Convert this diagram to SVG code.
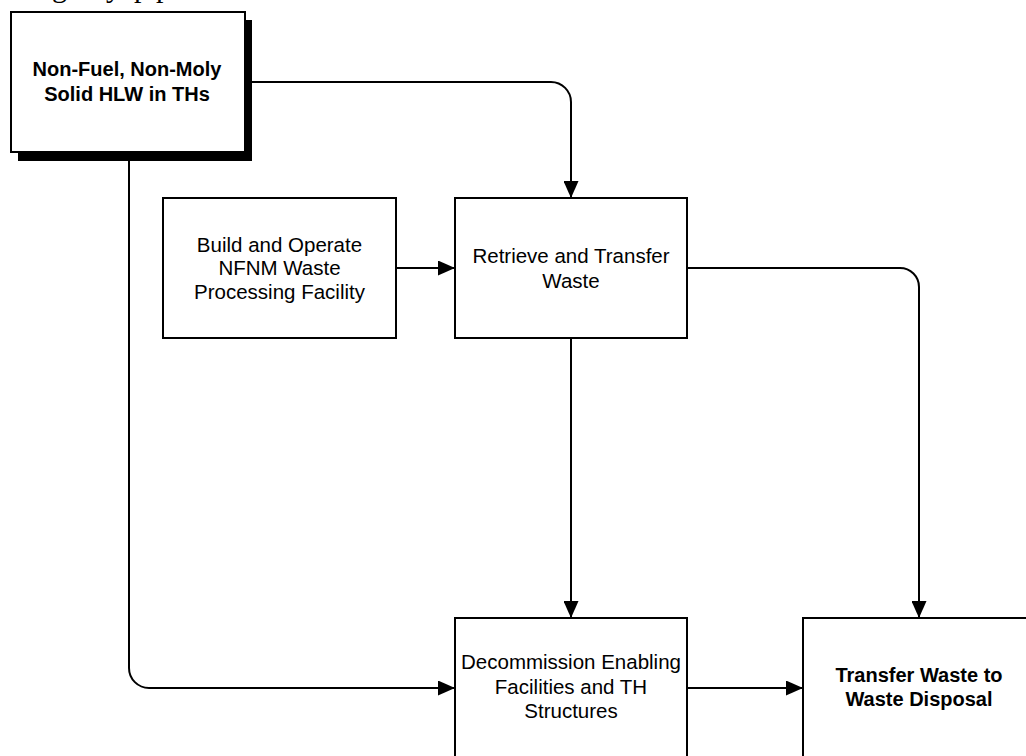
<svg xmlns="http://www.w3.org/2000/svg" width="1026" height="756" viewBox="0 0 1026 756">
  <style>
    .box { fill: #ffffff; stroke: #000000; stroke-width: 2; }
    .shadow { fill: #000000; stroke: none; }
    .lbl { font-family: "Liberation Sans", Arial, sans-serif; font-size: 20.5px; fill: #000000; text-anchor: middle; }
    .bold { font-weight: bold; font-size: 20px; }
    .conn { fill: none; stroke: #000000; stroke-width: 2; }
    .frag { font-family: "Liberation Serif", "Times New Roman", serif; font-size: 30px; fill: #000000; }
  </style>
  <defs>
    <marker id="arrow" markerUnits="userSpaceOnUse" markerWidth="17" markerHeight="15" refX="17" refY="7.5" orient="auto">
      <path d="M0,0 L17,7.5 L0,15 Z" fill="#000000"/>
    </marker>
  </defs>
  <rect width="1026" height="756" fill="#ffffff"/>

  <text class="frag" y="-3"><tspan x="52">g</tspan><tspan x="106">y</tspan><tspan x="134">p</tspan><tspan x="156">p</tspan></text>

  <g id="connectors">
    <path class="conn" d="M245,82 H551 A20,20 0 0 1 571,102 V198" marker-end="url(#arrow)"/>
    <path class="conn" d="M129,160 V668 A20,20 0 0 0 149,688 H455" marker-end="url(#arrow)"/>
    <path class="conn" d="M396,268 H455" marker-end="url(#arrow)"/>
    <path class="conn" d="M687,268 H900 A19,19 0 0 1 919,287 V618" marker-end="url(#arrow)"/>
    <path class="conn" d="M571,338 V618" marker-end="url(#arrow)"/>
    <path class="conn" d="M687,688 H803" marker-end="url(#arrow)"/>
  </g>

  <g id="node-source">
    <rect class="shadow" x="18" y="20" width="234" height="141"/>
    <rect class="box" x="11" y="12" width="234" height="140"/>
    <text class="lbl bold" x="127" y="76">Non-Fuel, Non-Moly</text>
    <text class="lbl bold" x="127" y="101">Solid HLW in THs</text>
  </g>

  <g id="node-build">
    <rect class="box" x="163" y="198" width="233" height="140"/>
    <text class="lbl" x="279.5" y="252">Build and Operate</text>
    <text class="lbl" x="279.5" y="275">NFNM Waste</text>
    <text class="lbl" x="279.5" y="298.5">Processing Facility</text>
  </g>

  <g id="node-retrieve">
    <rect class="box" x="455" y="198" width="232" height="140"/>
    <text class="lbl" x="571" y="263">Retrieve and Transfer</text>
    <text class="lbl" x="571" y="288">Waste</text>
  </g>

  <g id="node-decommission">
    <rect class="box" x="455" y="618" width="232" height="150"/>
    <text class="lbl" x="571" y="669">Decommission Enabling</text>
    <text class="lbl" x="571" y="694">Facilities and TH</text>
    <text class="lbl" x="571" y="718">Structures</text>
  </g>

  <g id="node-transfer">
    <rect class="box" x="803" y="618" width="240" height="150"/>
    <text class="lbl bold" x="919" y="682">Transfer Waste to</text>
    <text class="lbl bold" x="919" y="706">Waste Disposal</text>
  </g>
</svg>
